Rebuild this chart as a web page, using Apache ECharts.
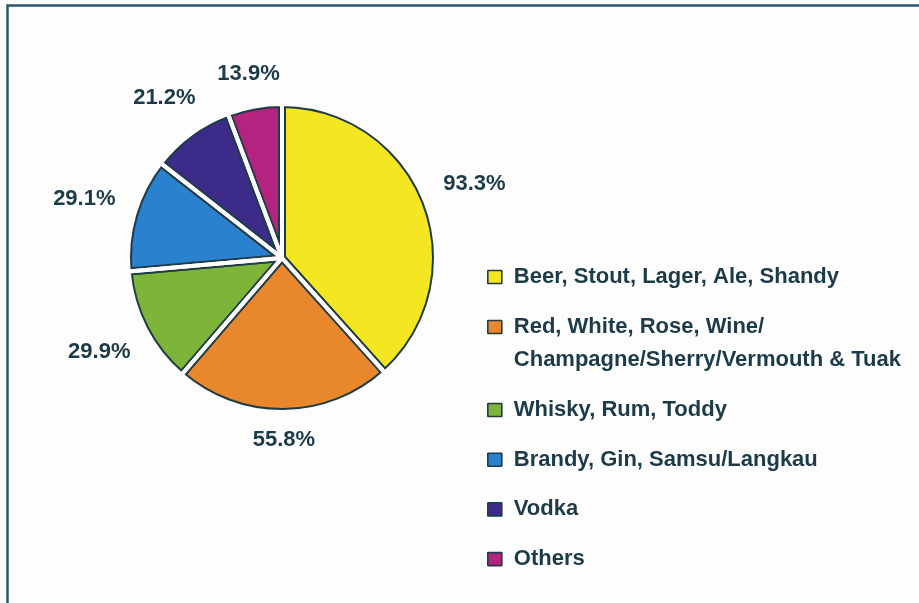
<!DOCTYPE html>
<html>
<head>
<meta charset="utf-8">
<script src="https://cdn.jsdelivr.net/npm/echarts@6/dist/echarts.min.js"></script>
<style>
  html, body { margin: 0; padding: 0; background: #fdfdfd; }
  #chart { width: 919px; height: 603px; }
</style>
</head>
<body>
<div id="chart"></div>
<script>
// Drink categories and their shares (%)
const categories = [
  'Beer, Stout, Lager, Ale, Shandy',
  'Red, White, Rose, Wine/\nChampagne/Sherry/Vermouth & Tuak',
  'Whisky, Rum, Toddy',
  'Brandy, Gin, Samsu/Langkau',
  'Vodka',
  'Others'
];
const shares = [93.3, 55.8, 29.9, 29.1, 21.2, 13.9];
const sliceColors = ['#f4e722', '#e8872c', '#7db43a', '#2a81cd', '#3d2b8a', '#b4237f'];

// Geometry and styling
const CX = 282, CY = 258;      // pie centre
const R = 154;                  // outer radius of the sectors
const LABEL_R = 174;            // distance from centre to the near edge of a label
const CAP_HALF = 8;             // half the cap height of the label font
const INK = '#1c3b48';
const OUTLINE = '#1f3c46';
const FONT = 'Liberation Sans, Arial, sans-serif';
const LINE_H = 33;              // legend line height

const pieData = categories.map((name, i) => ({
  name: name,
  value: shares[i],
  itemStyle: { color: sliceColors[i] }
}));

const total = shares.reduce((a, b) => a + b, 0);
function midAngle(i) {
  let before = 0;
  for (let k = 0; k < i; k++) before += shares[k];
  return (before + shares[i] / 2) / total * 2 * Math.PI;
}

const legendCommon = {
  orient: 'vertical',
  left: 487,
  padding: 0,
  icon: 'rect',
  itemWidth: 14,
  itemHeight: 13,
  itemStyle: { borderColor: OUTLINE, borderWidth: 1.6 },
  textStyle: {
    fontFamily: FONT,
    fontSize: 22,
    fontWeight: 'bold',
    color: INK,
    lineHeight: LINE_H,
    padding: [0, 0, 0, 7]
  },
  selectedMode: false
};

const chart = echarts.init(document.getElementById('chart'), null, { renderer: 'canvas' });
chart.setOption({
  animation: false,
  backgroundColor: '#fdfdfd',
  graphic: [{
    type: 'rect',
    shape: { x: 7.5, y: 5.5, width: 1000, height: 1000 },
    style: { fill: 'none', stroke: '#2b566a', lineWidth: 2.5 },
    silent: true,
    z: 100
  }],
  legend: [
    Object.assign({}, legendCommon, {
      top: 277 - LINE_H / 2,
      data: [categories[0]]
    }),
    // two-line entry: the swatch sits beside the first line
    Object.assign({}, legendCommon, {
      top: 327 - LINE_H / 2,
      itemHeight: 13 + LINE_H,
      icon: 'path://M0,0h14v13h-14zM0,46h0',
      data: [categories[1]]
    }),
    Object.assign({}, legendCommon, {
      top: 410 - LINE_H / 2,
      itemGap: 16.7,
      data: categories.slice(2)
    })
  ],
  series: [
    {
      // filled sectors with a dark outline, carrying the value labels
      type: 'pie',
      center: [CX, CY],
      radius: [0, R],
      startAngle: 90,
      clockwise: true,
      avoidLabelOverlap: false,
      data: pieData,
      z: 2,
      itemStyle: { borderColor: OUTLINE, borderWidth: 8, borderJoin: 'bevel' },
      emphasis: { disabled: true },
      label: {
        show: true,
        position: 'outside',
        formatter: '{c}%',
        fontFamily: FONT,
        fontSize: 22,
        fontWeight: 'bold',
        color: INK
      },
      labelLine: { show: false },
      labelLayout: function (p) {
        const a = midAngle(p.dataIndex);
        const sx = Math.sin(a), sy = -Math.cos(a);
        const ext = Math.abs(sx) * p.labelRect.width / 2 + Math.abs(sy) * CAP_HALF;
        const d = LABEL_R + ext;
        return { x: CX + d * sx, y: CY + d * sy, align: 'center', verticalAlign: 'middle' };
      }
    },
    {
      // white separators between the sectors
      type: 'pie',
      center: [CX, CY],
      radius: [0, R],
      startAngle: 90,
      clockwise: true,
      silent: true,
      data: pieData.map(d => ({ name: d.name, value: d.value })),
      z: 3,
      itemStyle: { color: 'rgba(0,0,0,0)', borderColor: '#fdfdfd', borderWidth: 4, borderJoin: 'bevel' },
      emphasis: { disabled: true },
      label: { show: false },
      labelLine: { show: false }
    },
    {
      // clears the stroke spill outside the rim
      type: 'pie',
      center: [CX, CY],
      radius: [R, R + 10],
      silent: true,
      data: [{ value: 1, name: '' }],
      z: 4,
      itemStyle: { color: '#fdfdfd', borderWidth: 0 },
      emphasis: { disabled: true },
      label: { show: false },
      labelLine: { show: false }
    }
  ]
});
</script>
</body>
</html>
